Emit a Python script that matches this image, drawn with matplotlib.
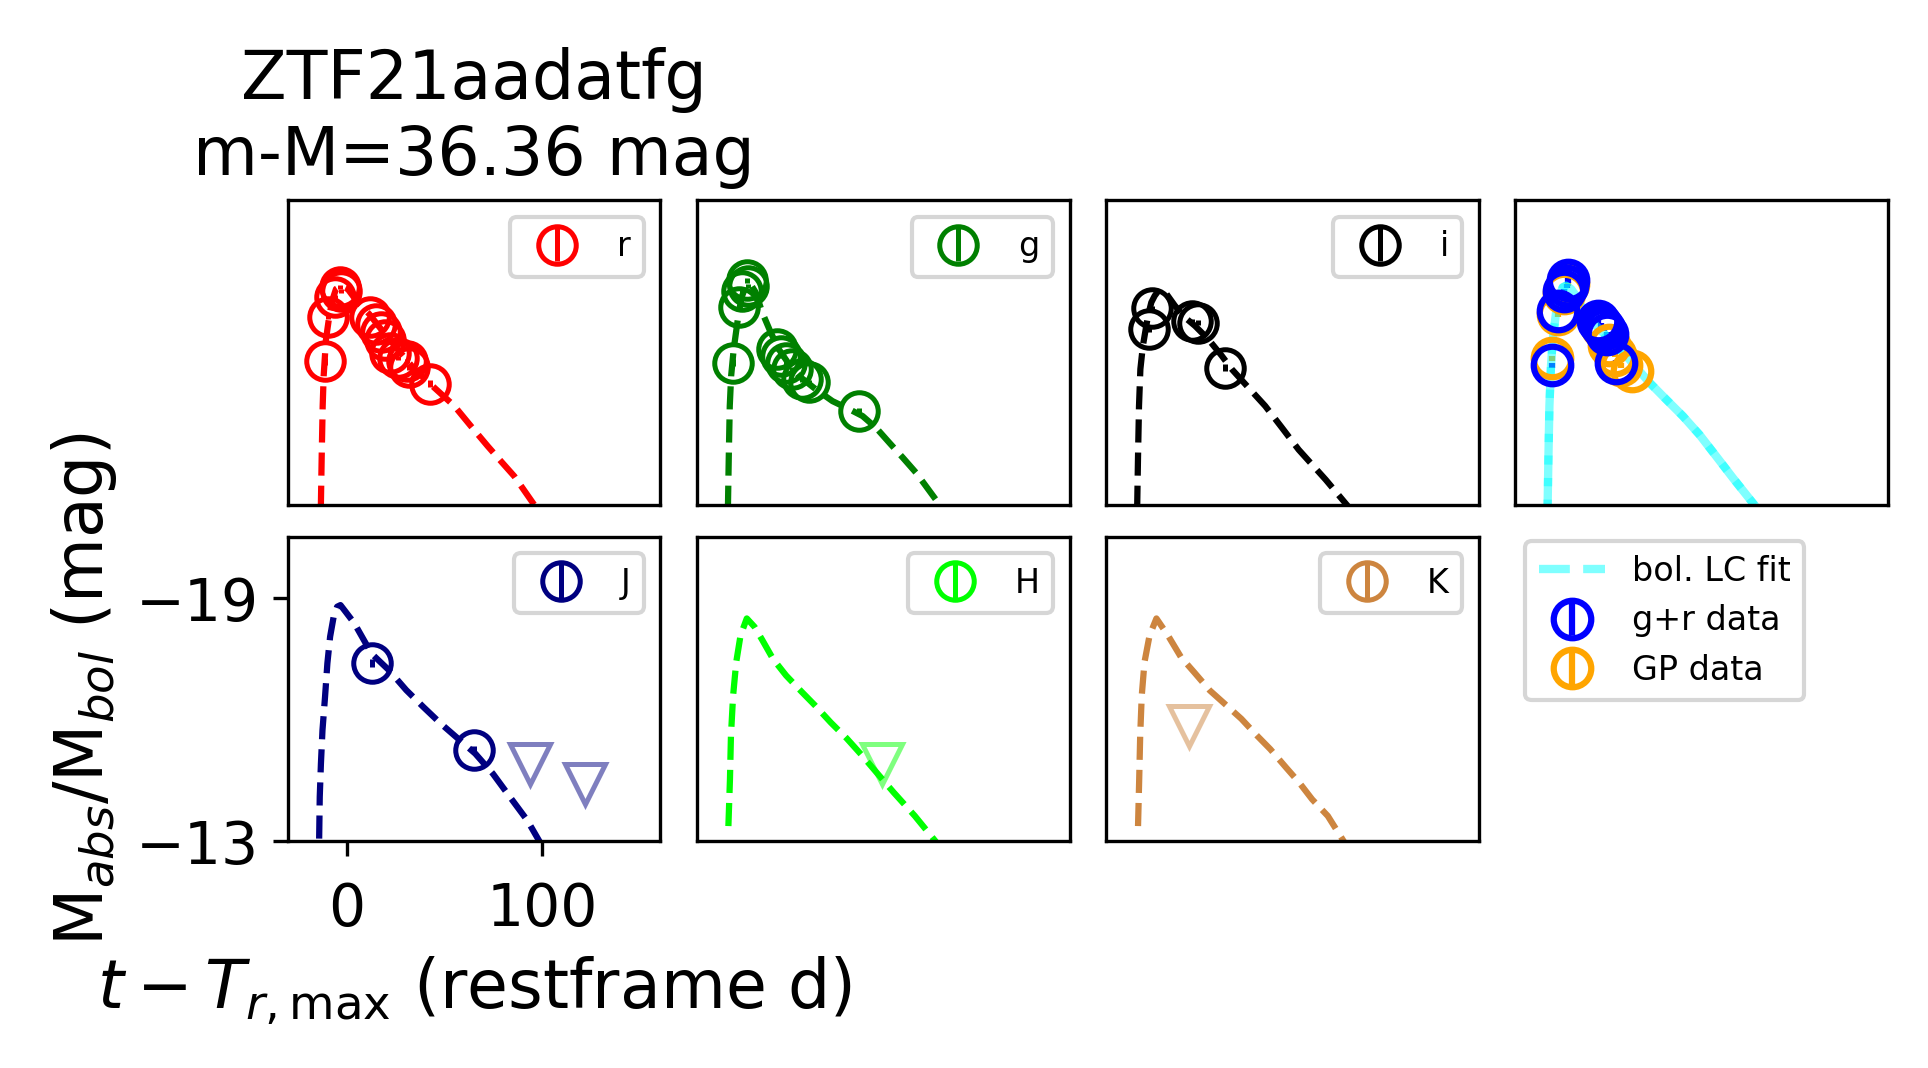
import matplotlib.pyplot as plt

plt.rcParams['font.size'] = 14

# restframe days from r-band max, absolute magnitudes
r_t = [-11.3, -9.6, -5.9, -3.5, -2.9, 11.9, 14.7, 17.5, 19.3, 22.3, 26.2, 30.6, 32.0, 42.5]
r_m = [-16.54, -17.65, -18.13, -18.37, -18.29, -17.65, -17.46, -17.27, -17.07, -16.75, -16.63, -16.55, -16.40, -15.99]
r_e = [0.08, 0.06, 0.05, 0.05, 0.05, 0.04, 0.04, 0.04, 0.05, 0.05, 0.05, 0.06, 0.06, 0.08]

g_t = [-11.7, -8.7, -7.1, -4.5, -4.0, 10.9, 12.6, 15.2, 18.6, 23.7, 27.2, 52.9]
g_m = [-16.51, -17.88, -18.29, -18.54, -18.41, -16.84, -16.68, -16.51, -16.35, -16.10, -16.02, -15.31]
g_e = [0.08, 0.06, 0.05, 0.05, 0.05, 0.05, 0.05, 0.05, 0.05, 0.06, 0.06, 0.08]

i_t = [-8.3, -6.6, 13.5, 16.5, 30.6]
i_m = [-17.34, -17.85, -17.54, -17.50, -16.39]
i_e = [0.07, 0.06, 0.06, 0.06, 0.08]

J_t = [12.7, 64.9]
J_m = [-17.39, -15.24]
J_e = [0.1, 0.1]
J_ul_t = [93.7, 122.0]
J_ul_m = [-14.91, -14.42]

H_ul_t = [64.5]
H_ul_m = [-14.90]

K_ul_t = [12.1]
K_ul_m = [-15.85]

# light-curve fits per band
r_fit_t = [-13.3, -13.2, -12.8, -12.3, -11.8, -10.6, -8.9, -7.2, -5.5, -2.9, 0.5, 5.6, 11.5, 17.5,
           26.0, 34.6, 44.8, 55.0, 63.5, 72.0, 78.9, 85.7, 96.5]
r_fit_m = [-12.9, -13.04, -14.20, -15.44, -16.18, -17.09, -17.67, -18.08, -18.33, -18.41, -18.33,
           -18.00, -17.71, -17.34, -16.84, -16.35, -15.89, -15.44, -14.94, -14.45, -14.07, -13.70, -12.95]

g_fit_t = [-14.4, -14.3, -13.9, -13.4, -12.7, -11.4, -8.8, -7.1, -5.4, -2.8, -0.2, 3.2, 7.5, 11.7,
           16.9, 22.0, 30.6, 39.1, 47.7, 54.5, 61.4, 68.2, 75.1, 82.0, 94.6]
g_fit_m = [-12.9, -13.04, -14.20, -15.44, -16.18, -16.84, -17.75, -18.16, -18.37, -18.45, -18.25,
           -17.75, -17.26, -16.84, -16.47, -16.18, -15.85, -15.56, -15.36, -15.19, -14.90, -14.53,
           -14.16, -13.78, -12.95]

i_fit_t = [-14.4, -14.3, -13.9, -13.4, -12.7, -11.4, -8.8, -7.1, -5.4, -2.8, 0.6, 4.9, 10.0, 15.2,
           22.0, 28.9, 34.0, 42.6, 51.1, 59.7, 68.2, 75.1, 82.0, 93.6]
i_fit_m = [-12.9, -13.04, -14.20, -15.44, -16.35, -16.93, -17.67, -18.00, -18.16, -18.33, -18.21,
           -17.92, -17.63, -17.42, -17.09, -16.68, -16.35, -15.89, -15.44, -14.90, -14.36, -13.99,
           -13.62, -12.95]

J_fit_t = [-14.1, -13.8, -13.2, -12.4, -11.1, -9.9, -8.5, -6.7, -4.9, -3.2, -0.5, 3.9, 12.7, 21.6,
           30.4, 39.2, 48.1, 56.9, 65.7, 74.6, 83.4, 92.3, 99.0]
J_fit_m = [-13.06, -14.09, -14.91, -15.74, -16.56, -17.39, -18.05, -18.54, -18.79, -18.83, -18.66,
           -18.38, -17.63, -17.22, -16.73, -16.31, -15.90, -15.53, -15.16, -14.67, -14.09, -13.51,
           -12.95]

H_fit_t = [-14.1, -13.3, -12.8, -11.7, -10.1, -7.9, -4.7, -0.7, 3.3, 8.7, 15.4, 23.5, 30.2, 38.2,
           46.3, 54.3, 62.4, 70.4, 81.2, 92.5]
H_fit_m = [-13.37, -14.53, -15.60, -16.59, -17.42, -18.08, -18.50, -18.29, -17.96, -17.50, -17.09,
           -16.68, -16.35, -15.93, -15.54, -15.11, -14.65, -14.20, -13.62, -12.95]

K_fit_t = [-13.9, -13.3, -12.8, -12.0, -10.6, -8.0, -4.5, 1.4, 8.1, 14.8, 22.8, 29.5, 38.9, 47.0,
           53.7, 61.7, 68.4, 75.1, 83.1, 91.8]
K_fit_m = [-13.37, -14.53, -15.60, -16.59, -17.42, -18.08, -18.50, -18.08, -17.54, -17.17, -16.72,
           -16.43, -16.02, -15.60, -15.27, -14.82, -14.45, -14.03, -13.62, -12.95]

# bolometric
gr_t = [-11.4, -8.5, -5.1, -3.4, -4.0, 12.0, 13.5, 15.0, 16.5, 21.3]
gr_m = [-16.45, -17.79, -18.29, -18.54, -18.40, -17.55, -17.45, -17.35, -17.22, -16.51]
gr_e = [0.06, 0.05, 0.05, 0.05, 0.05, 0.05, 0.05, 0.05, 0.05, 0.06]

gp_t = [-11.4, -8.5, -5.1, -3.4, 14.0, 17.5, 20.5, 24.0, 29.4]
gp_m = [-16.62, -17.70, -18.22, -18.45, -17.40, -16.95, -16.70, -16.45, -16.31]
gp_e = [0.06, 0.05, 0.05, 0.05, 0.05, 0.05, 0.05, 0.06, 0.06]

bol_fit_t = [-13.8, -13.7, -13.3, -12.8, -12.0, -11.1, -9.4, -7.7, -6.0, -4.3, -1.7, 0.8, 4.2, 11.1,
             17.9, 26.4, 38.3, 46.9, 55.4, 63.9, 72.4, 81.0, 92.7]
bol_fit_m = [-12.9, -13.04, -14.20, -15.44, -16.43, -17.09, -17.75, -18.16, -18.37, -18.41, -18.33,
             -18.16, -17.83, -17.42, -17.09, -16.68, -16.02, -15.60, -15.19, -14.73, -14.20, -13.66,
             -12.95]

bands = [
    ('r', 'red', r_t, r_m, r_e, r_fit_t, r_fit_m, [], []),
    ('g', 'green', g_t, g_m, g_e, g_fit_t, g_fit_m, [], []),
    ('i', 'black', i_t, i_m, i_e, i_fit_t, i_fit_m, [], []),
    ('J', 'navy', J_t, J_m, J_e, J_fit_t, J_fit_m, J_ul_t, J_ul_m),
    ('H', 'lime', [], [], [], H_fit_t, H_fit_m, H_ul_t, H_ul_m),
    ('K', 'peru', [], [], [], K_fit_t, K_fit_m, K_ul_t, K_ul_m),
]
slots = [(0, 0), (0, 1), (0, 2), (1, 0), (1, 1), (1, 2)]

fig, axes = plt.subplots(2, 4, sharex=True, sharey=True, figsize=(1928 / 300, 1068 / 300), dpi=300)
fig.subplots_adjust(left=0.1492, right=0.9793, bottom=0.2125, top=0.8124, wspace=0.098, hspace=0.105)

for (name, c, t, m, e, ft, fm, ut, um), (row, col) in zip(bands, slots):
    ax = axes[row, col]
    ax.plot(ft, fm, '--', color=c, lw=1.5)
    ax.errorbar(t, m, yerr=e, fmt='o', mfc='none', mec=c, ecolor=c, ms=9, mew=1.2,
                elinewidth=1.2, label=name)
    if ut:
        ax.plot(ut, um, 'v', mfc='none', mec=c, alpha=0.5, ms=9.5, mew=1.2, ls='none')
    ax.legend(loc='upper right', fontsize=8)

# bolometric panel
axb = axes[0, 3]
axb.errorbar(gp_t, gp_m, yerr=gp_e, fmt='o', mfc='none', color='orange', ms=9, mew=1.5,
             elinewidth=1.5, label='GP data')
axb.errorbar(gr_t, gr_m, yerr=gr_e, fmt='o', mfc='none', color='blue', ms=9, mew=1.5,
             elinewidth=1.5, label='g+r data')
axb.plot(bol_fit_t, bol_fit_m, ls='--', color='cyan', alpha=0.5, lw=2, label='bol. LC fit')
axb.plot(bol_fit_t, bol_fit_m, ls=(2.6, (3.7, 1.6)), color='cyan', alpha=0.5, lw=2)

h, l = axb.get_legend_handles_labels()
order = [l.index('bol. LC fit'), l.index('g+r data'), l.index('GP data')]
axes[1, 3].axis('off')
axes[1, 3].legend([h[k] for k in order], [l[k] for k in order], loc='upper left',
                  bbox_to_anchor=(0.027, 0.985), borderaxespad=0, fontsize=8)

axj = axes[1, 0]
axj.set_xlim(-30.2, 160.3)
axj.set_ylim(-13, -20.52)
axj.set_xticks([0, 100])
axj.set_yticks([-19, -13])
for ax in axes.flat:
    if ax is not axj:
        ax.tick_params(left=False, bottom=False, labelleft=False, labelbottom=False)
axj.tick_params(labelleft=True, labelbottom=True)
axj.tick_params(axis='x', pad=6)

axes[0, 0].set_title('ZTF21aadatfg\nm-M=36.36 mag', fontsize=16)
axj.set_ylabel(r'M$_{abs}$/M$_{bol}$ (mag)', fontsize=16)
axj.set_xlabel(r'$t - T_{r,\max}$ (restframe d)', fontsize=16)

plt.savefig('out.png', dpi=300)
